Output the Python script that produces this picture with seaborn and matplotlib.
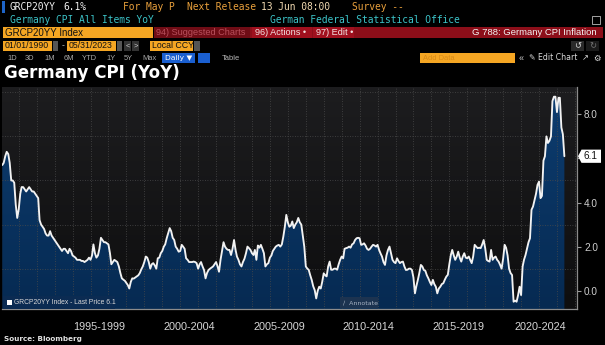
import numpy as np
import pandas as pd
import matplotlib
matplotlib.use("Agg")
import matplotlib.pyplot as plt
import matplotlib.dates as mdates
import matplotlib.transforms as mtransforms
from matplotlib.patches import Rectangle, Polygon
import seaborn as sns

# ---------------- data (Germany CPI YoY, %, monthly, Jan 1992 - May 2023) ----------------
cpi_1992_1994 = [5.7, 5.8, 6.1, 6.3, 6.2, 5.8, 5.0, 5.0, 4.9, 3.9, 3.3, 3.7,
                 4.4, 4.7, 4.7, 4.6, 4.5, 4.6, 4.7, 4.6, 4.5, 4.5, 4.4, 4.3,
                 4.2, 3.2, 3.0, 2.9, 2.8, 2.6, 2.5, 2.5, 2.7, 2.5, 2.4, 2.3]
cpi_1995_1999 = [2.2, 2.1, 2.0, 1.9, 1.8, 1.9, 1.9, 1.8, 1.7, 1.9, 1.8, 1.6,
                 1.55, 1.5, 1.4, 1.4, 1.4, 1.35, 1.35, 1.3, 1.35, 1.4, 1.5, 1.4,
                 1.6, 2.1, 1.7, 1.5, 1.6, 1.9, 2.4, 2.3, 2.2, 2.2, 2.15, 2.1,
                 1.7, 1.2, 1.3, 1.4, 1.35, 1.3, 1.1, 0.8, 0.56, 0.5, 0.45, 0.35,
                 0.25, 0.1, 0.4, 0.56, 0.55, 0.6, 0.65, 0.7, 0.8, 0.97, 1.1, 1.3]
cpi_2000_2004 = [1.55, 1.5, 1.3, 1.0, 1.2, 1.25, 1.15, 1.0, 1.47, 1.5, 1.7, 1.8,
                 2.0, 2.1, 2.38, 2.6, 2.84, 2.7, 2.4, 2.3, 2.0, 1.9, 1.77, 1.8,
                 2.08, 2.0, 1.9, 1.47, 1.4, 1.3, 1.3, 1.3, 1.32, 1.3, 1.25, 1.0,
                 1.2, 1.3, 1.1, 0.94, 0.56, 0.8, 0.94, 1.0, 1.05, 1.1, 1.2, 1.3,
                 1.1, 0.86, 1.4, 1.8, 2.2, 2.0, 1.9, 1.85, 1.85, 1.62, 1.9, 2.3]
cpi_2005_2009 = [1.85, 1.55, 1.4, 1.2, 1.1, 1.3, 1.45, 1.7, 2.0, 1.93, 1.85, 1.7,
                 1.62, 1.85, 1.4, 2.05, 1.95, 2.08, 1.9, 1.7, 1.1, 1.2, 1.25, 1.5,
                 1.6, 1.8, 1.9, 2.0, 2.05, 2.08, 2.0, 2.1, 2.45, 2.9, 3.44, 3.1,
                 2.9, 2.95, 3.14, 2.84, 3.0, 3.1, 3.3, 3.1, 3.0, 2.5, 2.0, 1.1,
                 1.0, 0.95, 0.7, 0.49, 0.2, 0.03, -0.35, 0.0, 0.18, 0.1, 0.4, 0.79]
cpi_2010_2014 = [0.7, 0.65, 1.1, 1.32, 0.95, 0.95, 1.0, 1.0, 0.95, 1.2, 1.4, 1.55,
                 1.47, 1.9, 1.93, 1.95, 2.0, 1.95, 2.1, 2.15, 2.3, 2.38, 2.4, 2.38,
                 2.08, 2.1, 2.15, 2.05, 1.9, 1.85, 1.9, 2.0, 2.08, 2.05, 2.0, 2.08,
                 1.85, 1.7, 1.55, 1.3, 1.17, 1.6, 1.85, 2.0, 1.7, 1.4, 1.3, 1.25,
                 1.47, 1.35, 1.25, 1.3, 1.32, 1.1, 0.94, 0.95, 1.0, 1.0, 0.94, 0.6]
cpi_2015_2019 = [-0.12, 0.2, 0.49, 0.8, 1.17, 1.1, 0.94, 0.9, 0.7, 0.56, 0.4, 0.26,
                 0.49, 0.3, 0.18, -0.12, 0.1, 0.18, 0.3, 0.34, 0.5, 0.64, 0.72, 1.2,
                 1.62, 1.85, 1.6, 1.4, 1.55, 1.77, 1.5, 1.32, 1.55, 1.7, 1.5, 1.47,
                 1.55, 1.4, 1.25, 1.55, 2.08, 2.0, 1.93, 1.95, 1.93, 2.1, 2.3, 1.93,
                 1.4, 1.35, 1.32, 1.85, 1.4, 1.5, 1.55, 1.4, 1.32, 1.17, 1.0, 1.45]
cpi_2020_2023 = [2.08, 1.95, 1.6, 1.0, 0.8, 0.71, -0.5, -0.45, -0.5, -0.2, 0.18, -0.2,
                 1.1, 1.4, 1.62, 1.9, 2.2, 2.38, 3.67, 3.82, 4.1, 4.4, 4.8, 4.95,
                 4.2, 4.3, 5.9, 6.1, 7.0, 6.7, 6.8, 7.0, 8.6, 8.8, 8.8, 8.1,
                 8.75, 8.75, 7.4, 7.1, 6.1]

period_labels = ["1995-1999", "2000-2004", "2005-2009", "2010-2014", "2015-2019", "2020-2024"]
ytick_vals = [0, 2, 4, 6, 8]
ytick_labels = ["0.0", "2.0", "4.0", "", "8.0"]
last_price = 6.1

values = np.array(cpi_1992_1994 + cpi_1995_1999 + cpi_2000_2004 + cpi_2005_2009
                  + cpi_2010_2014 + cpi_2015_2019 + cpi_2020_2023)
dates = pd.date_range("1992-01-01", periods=len(values), freq="MS") + pd.offsets.MonthEnd(0)
df = pd.DataFrame({"date": dates, "cpi": values})

# ---------------- figure ----------------
sns.set_theme(style="dark")
plt.rcParams["font.family"] = ["Liberation Sans", "DejaVu Sans"]

W, H = 605, 345
fig = plt.figure(figsize=(W / 100, H / 100), dpi=100, facecolor="black")

def fx(x):
    return x / W

def fy(y):
    return 1 - y / H

def rect(x, y, w, h, color, ec="none", lw=0.0, z=1):
    fig.patches.append(Rectangle((fx(x), fy(y + h)), w / W, h / H, transform=fig.transFigure,
                                 facecolor=color, edgecolor=ec, linewidth=lw, zorder=z))

MONO = ["DejaVu Sans Mono"]
SANS = ["Liberation Sans", "DejaVu Sans"]

def txt(x, y, s, color, size, ha="left", family=SANS, weight="normal", z=3):
    fig.text(fx(x), fy(y), s, color=color, fontsize=size, ha=ha, va="center",
             family=family, fontweight=weight, zorder=z)

ORANGE = "#f5a623"
ORTXT = "#e9a03c"
TEAL = "#3cc3c8"

# Row 1
rect(2, 1, 3, 12, "#1e64c8")
txt(9, 7.5, "GRCP20YY", "#f0f0f0", 6.9, family=MONO)
txt(63, 7.5, "6.1%", "#f0f0f0", 6.9, family=MONO)
txt(123, 7.5, "For May P", ORTXT, 6.9, family=MONO)
txt(187, 7.5, "Next Release", ORTXT, 6.9, family=MONO)
txt(261, 7.5, "13 Jun 08:00", "#f0d8b0", 6.9, family=MONO)
txt(352, 7.5, "Survey --", ORTXT, 6.9, family=MONO)
# Row 2
txt(9.5, 20, "Germany CPI All Items YoY", TEAL, 6.9, family=MONO)
txt(269.5, 20, "German Federal Statistical Office", TEAL, 6.9, family=MONO)
rect(592, 16, 8, 8, "none", ec="#bbbbbb", lw=0.6)
# Row 3
rect(3, 27, 150, 11, ORANGE)
txt(5, 32.5, "GRCP20YY Index", "#111111", 7.0)
rect(153.5, 27, 449, 11, "#8c0e19")
rect(153.5, 27, 96, 11, "#6f0c15")
txt(156, 32.5, "94) Suggested Charts", "#b8505c", 6.6)
rect(252, 27, 60, 11, "#a0101e")
txt(255, 32.5, "96) Actions \u2022", "#f4e4e4", 6.6)
rect(313, 27, 41, 11, "#a0101e")
txt(316, 32.5, "97) Edit \u2022", "#f4e4e4", 6.6)
txt(597, 32.5, "G 788: Germany CPI Inflation", "#f4f4f4", 6.8, ha="right")
# Row 4
rect(3, 41, 49, 10, ORANGE)
txt(4.5, 46, "01/01/1990", "#111111", 6.3)
rect(53, 41, 5, 10, "#555555")
txt(62, 46, "-", "#bbbbbb", 6.3)
rect(67, 41, 49, 10, ORANGE)
txt(68.5, 46, "05/31/2023", "#111111", 6.3)
rect(117, 41, 5, 10, "#555555")
rect(124, 41, 7, 10, "#333333")
txt(127.5, 46, "<", "#cccccc", 5.5, ha="center")
rect(132, 41, 7, 10, "#333333")
txt(135.5, 46, ">", "#cccccc", 5.5, ha="center")
rect(150, 41, 43, 10, ORANGE)
txt(152, 46, "Local CCY", "#111111", 6.3)
rect(194, 41, 6, 10, "#555555")
rect(571, 41, 13, 10, "#2a2a2a")
txt(577.5, 46, "\u21ba", "#dddddd", 6, ha="center", family=["DejaVu Sans"])
rect(586, 41, 13, 10, "#1a1a1a")
txt(592.5, 46, "\u21bb", "#777777", 6, ha="center", family=["DejaVu Sans"])
# Row 5
for xpos, lab in zip([7.5, 25, 44, 63.5, 82, 106, 123.5, 142],
                     ["1D", "3D", "1M", "6M", "YTD", "1Y", "5Y", "Max"]):
    txt(xpos, 58, lab, "#a8a8a8", 5.4)
rect(162, 53, 33, 10, "#1a5fd0")
txt(165, 58, "Daily \u25bc", "#ffffff", 5.4, family=["DejaVu Sans"])
rect(198, 53, 12, 10, "#1a5fd0")
txt(222, 58, "Table", "#bbbbbb", 5.4)
rect(420, 53, 95, 10, ORANGE)
txt(423, 58, "Add Data", "#d88a18", 5.4)
txt(521, 58, "\u00ab", "#cccccc", 6.5, ha="center")
txt(529, 58, "\u270e Edit Chart", "#dddddd", 5.6, family=["DejaVu Sans"])
txt(585, 58, "\u2197", "#dddddd", 6, ha="center", family=["DejaVu Sans"])
txt(597, 58, "\u2699", "#dddddd", 6, ha="center", family=["DejaVu Sans"])

# Title
txt(3.5, 73, "Germany CPI (YoY)", "#ffffff", 12, family=["DejaVu Sans"], weight="bold")

# ---------------- chart ----------------
left_px, right_px, top_px, bot_px = 2, 577, 87, 309
pos = [fx(left_px), fy(bot_px), (right_px - left_px) / W, (bot_px - top_px) / H]

bg = fig.add_axes(pos, zorder=0)
grad = np.linspace(0, 1, 256).reshape(-1, 1)
from matplotlib.colors import LinearSegmentedColormap
bg_cmap = LinearSegmentedColormap.from_list("bg", ["#1d1d1f", "#0e0e0f"])
bg.imshow(grad, aspect="auto", cmap=bg_cmap, extent=[0, 1, 0, 1], origin="upper")
bg.axis("off")

ax = fig.add_axes(pos, zorder=1)
ax.set_facecolor("none")

ymin, ymax = -0.83, 9.24
xmin, xmax = pd.Timestamp("1992-01-25"), pd.Timestamp("2024-02-12")

# area fill with a vertical navy gradient, clipped to the area under the line
fill = ax.fill_between(df["date"], df["cpi"], ymin, facecolor="none", edgecolor="none", zorder=1)
fill_cmap = LinearSegmentedColormap.from_list("fill", ["#0d3d70", "#062a52"])
im = ax.imshow(grad, aspect="auto", cmap=fill_cmap, origin="upper",
               extent=[mdates.date2num(xmin), mdates.date2num(xmax), ymin, ymax], zorder=1)
im.set_clip_path(fill.get_paths()[0], transform=ax.transData)

sns.lineplot(data=df, x="date", y="cpi", ax=ax, color="#f2f2f2", linewidth=1.35, zorder=4)

ax.set_xlim(xmin, xmax)
ax.set_ylim(ymin, ymax)
ax.set_xlabel("")
ax.set_ylabel("")

# grid
ax.set_axisbelow(False)
ax.yaxis.tick_right()
ax.set_yticks(ytick_vals)
ax.set_yticklabels(ytick_labels)
ax.set_yticks(np.arange(0, 10), minor=True)
ax.xaxis.set_major_locator(mdates.YearLocator(5))
ax.xaxis.set_minor_locator(mdates.YearLocator(1))
ax.tick_params(axis="x", which="major", length=14, width=0.8, color="#5a5a5a", labelbottom=False)
ax.tick_params(axis="x", which="minor", length=3, width=0.6, color="#5a5a5a")
ax.tick_params(axis="y", which="major", length=3, width=0.8, color="#9a9a9a", labelcolor="#cfcfcf",
               labelsize=7.2, pad=2, right=True, left=False)
ax.tick_params(axis="y", which="minor", length=0)
gkw = dict(color="#4a4a4a", linewidth=0.6, linestyle=(0, (1, 2)))
ax.grid(False)
ax.grid(True, axis="x", which="both", **gkw)
ax.grid(True, axis="y", which="minor", **gkw)
for ln in ax.get_xgridlines() + ax.get_ygridlines():
    ln.set_zorder(2)

for side in ["top", "left"]:
    ax.spines[side].set_visible(False)
for side in ["right", "bottom"]:
    ax.spines[side].set_visible(True)
    ax.spines[side].set_color("#8c8c8c")
    ax.spines[side].set_linewidth(0.9)

# period labels centred between the 5-year separators
trans = mtransforms.blended_transform_factory(ax.transData, fig.transFigure)
bounds = [pd.Timestamp(f"{y}-01-01") for y in (1995, 2000, 2005, 2010, 2015, 2020)] + [xmax]
for lab, a, b in zip(period_labels, bounds[:-1], bounds[1:]):
    mid = a + (b - a) / 2
    ax.text(mid, fy(326.5), lab, transform=trans, ha="center", va="center",
            color="#d6d6d6", fontsize=7.8, family=SANS, clip_on=False)

# last price tag
tag_y = last_price
ytrans = mtransforms.blended_transform_factory(fig.transFigure, ax.transData)
ax.add_patch(Polygon([[fx(578), tag_y], [fx(581.5), tag_y + 0.3], [fx(601), tag_y + 0.3],
                      [fx(601), tag_y - 0.3], [fx(581.5), tag_y - 0.3]], closed=True,
                     transform=ytrans, facecolor="#ffffff", edgecolor="none", clip_on=False, zorder=6))
ax.text(fx(583), tag_y, f"{last_price:.1f}", transform=ytrans, ha="left", va="center",
        color="#111111", fontsize=7.2, family=SANS, clip_on=False, zorder=7)

# legend box
rect(3, 296, 112, 13, "#0b2b52", z=5)
rect(6.5, 299.5, 5, 5, "#ffffff", z=6)
txt(14, 302.5, "GRCP20YY Index - Last Price 6.1", "#d8d8d8", 4.9, z=6)
# annotate box
rect(340, 297, 38, 11, "#1c3350", z=5)
txt(343, 302.5, "\u2215  Annotate", "#a8b4c4", 4.5, family=["DejaVu Sans"], z=6)

# source
txt(4, 339.5, "Source: Bloomberg", "#e0e0e0", 5.2, family=["DejaVu Sans"], weight="bold")

fig.savefig("out.png", dpi=100, facecolor="black")
